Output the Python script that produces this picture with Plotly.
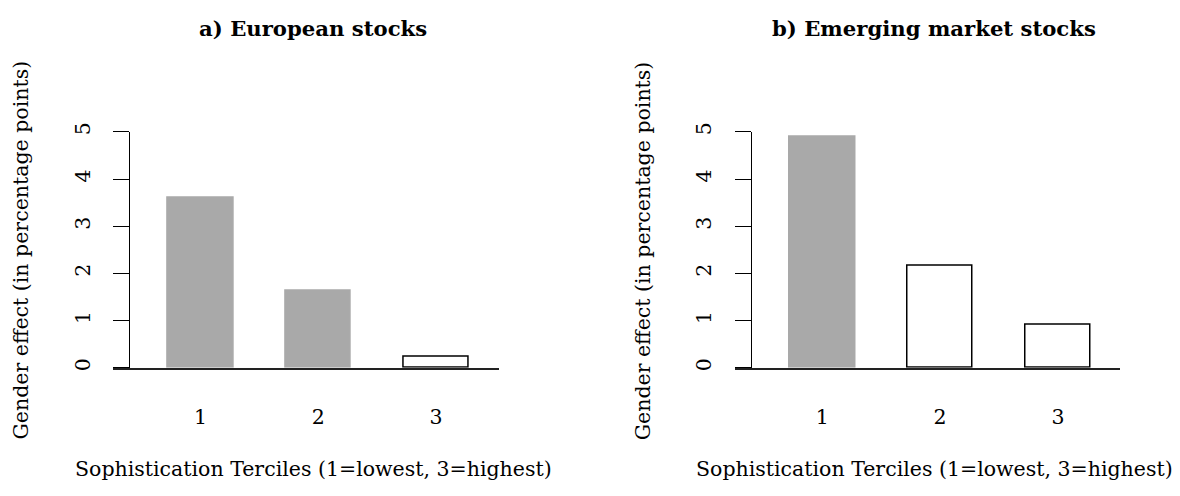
import plotly.graph_objects as go

# Page has an 8px body margin; the figure is sized/placed to compensate.
PAGE_MARGIN = 8
W, H = 1164, 480

categories = [1, 2, 3]
tick_labels = ["1", "2", "3"]
european = [3.61, 1.62, 0.24]
emerging = [4.90, 2.16, 0.91]
european_significant = [True, True, False]
emerging_significant = [True, False, False]
y_ticks = [0, 1, 2, 3, 4, 5]

titles = ["a) European stocks", "b) Emerging market stocks"]
x_title = "Sophistication Terciles (1=lowest, 3=highest)"
y_title = "Gender effect (in percentage points)"

FONT = "DejaVu Serif"
FS = 20.5
FS_TITLE = 21.2
GREY = "#A9A9A9"


def px(x):
    return (x - PAGE_MARGIN) / W


def py(y):
    return 1 - (y - PAGE_MARGIN) / H


fig = go.Figure()

panels = [
    dict(vals=european, sig=european_significant, xa="x", ya="y", off=0.0),
    dict(vals=emerging, sig=emerging_significant, xa="x2", ya="y2", off=621.8),
]

for p in panels:
    fills = [GREY if s else "white" for s in p["sig"]]
    lines = [GREY if s else "black" for s in p["sig"]]
    fig.add_trace(go.Bar(
        x=categories, y=p["vals"], width=0.557,
        marker=dict(color=fills, line=dict(color=lines, width=1.5)),
        xaxis=p["xa"], yaxis=p["ya"], showlegend=False, hoverinfo="skip",
    ))

ydom = [py(367.5), py(125)]
unit = 117.8
layout = dict(
    width=W, height=H, margin=dict(l=0, r=0, t=0, b=0),
    paper_bgcolor="white", plot_bgcolor="white",
    font=dict(family=FONT, size=FS, color="black"),
    showlegend=False, bargap=0,
)
for i, p in enumerate(panels):
    off = p["off"]
    xl, xr = 112.7 + off, 498.5 + off
    c1 = 200.5 + off
    rng = [1 - (c1 - xl) / unit, 1 + (xr - c1) / unit]
    sfx = "" if i == 0 else "2"
    layout["xaxis" + sfx] = dict(
        domain=[px(xl), px(xr)], range=rng, anchor="y" + sfx,
        showline=True, linecolor="#222", linewidth=1.5,
        showgrid=False, zeroline=False, ticks="",
        tickvals=categories, ticktext=tick_labels,
        ticklabelstandoff=30, tickfont=dict(size=FS),
    )
    layout["yaxis" + sfx] = dict(
        domain=ydom, range=[0, 5], anchor="free", position=px(129 + off),
        showline=True, linecolor="black", linewidth=1.3,
        showgrid=False, zeroline=False, ticks="outside", ticklen=16,
        tickwidth=1.3, tickcolor="black",
        tickvals=y_ticks, ticktext=[str(v) for v in y_ticks],
        tickangle=-90, ticklabelstandoff=15, tickfont=dict(size=FS),
    )

fig.update_layout(**layout)

for i, p in enumerate(panels):
    off = p["off"]
    fig.add_annotation(x=px(312.5 + off), y=py(19), xref="paper", yref="paper",
                       text="<b>" + titles[i] + "</b>", showarrow=False,
                       xanchor="center", yanchor="middle",
                       font=dict(family=FONT, size=FS_TITLE, color="black"))
    fig.add_annotation(x=px(313 + off), y=py(472), xref="paper", yref="paper",
                       text=x_title, showarrow=False,
                       xanchor="center", yanchor="middle",
                       font=dict(family=FONT, size=FS, color="black"))
    fig.add_annotation(x=px(21 + off), y=py(247), xref="paper", yref="paper",
                       text=y_title, showarrow=False, textangle=-90,
                       xanchor="center", yanchor="middle",
                       font=dict(family=FONT, size=FS, color="black"))

fig.write_html("out.html")
